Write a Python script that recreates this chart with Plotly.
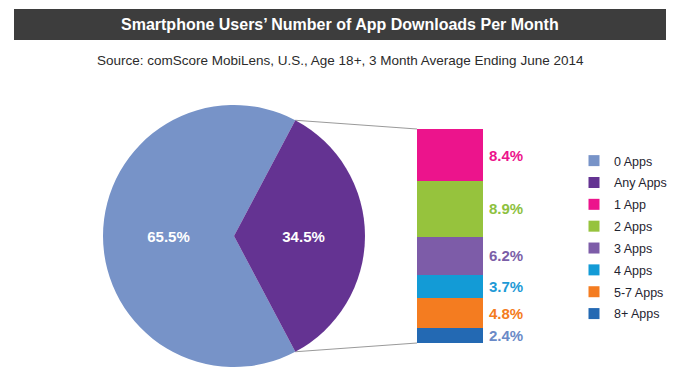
import math
import plotly.graph_objects as go

# ---- data ----
pie_labels = ["0 Apps", "Any Apps"]
pie_values = [65.5, 34.5]
pie_colors = ["#7793C8", "#643392"]

bar_labels = ["1 App", "2 Apps", "3 Apps", "4 Apps", "5-7 Apps", "8+ Apps"]
bar_values = [8.4, 8.9, 6.2, 3.7, 4.8, 2.4]
bar_colors = ["#EC148C", "#96C33D", "#7D5CA8", "#139BD6", "#F47C20", "#2369B3"]
bar_text_colors = ["#EC148C", "#8DC13F", "#7B5EA7", "#1E9AD6", "#F47B20", "#6A8AC7"]

title_text = "Smartphone Users’ Number of App Downloads Per Month"
subtitle_text = "Source: comScore MobiLens, U.S., Age 18+, 3 Month Average Ending June 2014"

W, H = 680, 384
FONT = "Liberation Sans, Arial, sans-serif"

def px(x):
    return x / W

def py(y):
    return 1 - y / H

# pie geometry (pixels)
cx, cy, r = 234, 236, 131
half = math.pi * pie_values[1] / 100.0

fig = go.Figure()

fig.add_trace(go.Pie(
    labels=pie_labels, values=pie_values, sort=False,
    direction="clockwise", rotation=90 + math.degrees(half),
    marker=dict(colors=pie_colors, line=dict(width=0)),
    texttemplate="<b>%{value:.1f}%</b>", textposition="inside",
    insidetextorientation="horizontal",
    insidetextfont=dict(color="white", size=15, family=FONT),
    domain=dict(x=[px(cx - r), px(cx + r)], y=[py(cy + r), py(cy - r)]),
    showlegend=False, hoverinfo="label+value",
))

# stacked bars: bottom first
order = list(range(len(bar_values)))[::-1]
for i in order:
    fig.add_trace(go.Bar(
        x=[0.5], y=[bar_values[i]], width=[1], name=bar_labels[i],
        marker=dict(color=bar_colors[i], line=dict(width=0)),
        showlegend=False, xaxis="x", yaxis="y",
    ))

total = sum(bar_values)
cum = 0.0
for i in order:
    mid = cum + bar_values[i] / 2
    cum += bar_values[i]
    fig.add_annotation(
        x=1, y=mid, xref="x", yref="y", xanchor="left", yanchor="middle",
        xshift=4, showarrow=False, text="<b>%.1f%%</b>" % bar_values[i],
        font=dict(color=bar_text_colors[i], size=15, family=FONT),
    )

# legend entries
all_labels = pie_labels + bar_labels
all_colors = pie_colors + bar_colors
for k, (lab, col) in enumerate(zip(all_labels, all_colors)):
    fig.add_trace(go.Scatter(
        x=[None], y=[None], mode="markers", name=lab, legendgroup="g%d" % k,
        marker=dict(symbol="square", size=11, color=col),
        xaxis="x", yaxis="y",
    ))

bar_left, bar_right = 417, 483
bar_top, bar_bottom = 129, 343

# connector lines
top_pt = (cx + r * math.cos(half), cy - r * math.sin(half))
bot_pt = (cx + r * math.cos(half), cy + r * math.sin(half))
for (x0, y0), (x1, y1) in [(top_pt, (bar_left, bar_top)), (bot_pt, (bar_left, bar_bottom))]:
    fig.add_shape(type="line", xref="paper", yref="paper",
                  x0=px(x0), y0=py(y0), x1=px(x1), y1=py(y1),
                  line=dict(color="#9A9A9A", width=1.2), layer="below")

# title bar
fig.add_shape(type="rect", xref="paper", yref="paper",
              x0=px(14), x1=px(666), y0=py(40), y1=py(9),
              fillcolor="#3D3D3D", line=dict(width=0), layer="below")
fig.add_annotation(x=0.5, y=py(24.5), xref="paper", yref="paper", showarrow=False,
                   text="<b>" + title_text + "</b>", yanchor="middle",
                   font=dict(color="white", size=16, family=FONT))
fig.add_annotation(x=0.5, y=py(61), xref="paper", yref="paper", showarrow=False,
                   text=subtitle_text, yanchor="middle",
                   font=dict(color="#2B2B2B", size=13.5, family=FONT))

fig.update_layout(
    width=W, height=H, margin=dict(l=0, r=0, t=0, b=0),
    paper_bgcolor="white", plot_bgcolor="white",
    barmode="stack", bargap=0,
    xaxis=dict(domain=[px(bar_left), px(bar_right)], range=[0, 1], visible=False, fixedrange=True),
    yaxis=dict(domain=[py(bar_bottom), py(bar_top)], range=[0, total], visible=False, fixedrange=True),
    legend=dict(x=px(574), y=py(146), xanchor="left", yanchor="top",
                traceorder="grouped", tracegroupgap=2.6,
                font=dict(size=12.5, color="#1F2430", family=FONT),
                bgcolor="rgba(0,0,0,0)"),
    font=dict(family=FONT),
)

fig.write_html("out.html", config={"displayModeBar": False},
               post_script="document.body.style.margin='0';")
